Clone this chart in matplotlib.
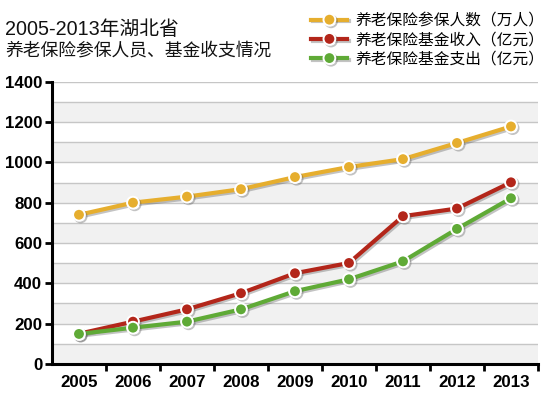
import matplotlib
matplotlib.use("Agg")
import matplotlib.pyplot as plt
import matplotlib.patheffects as pe

years = [2005, 2006, 2007, 2008, 2009, 2010, 2011, 2012, 2013]
insured = [740, 800, 830, 867, 927, 977, 1016, 1096, 1178]
income = [150, 210, 271, 351, 450, 501, 733, 771, 901]
expense = [149, 180, 210, 271, 361, 420, 509, 670, 822]
series_labels = ["养老保险参保人数（万人）", "养老保险基金收入（亿元）", "养老保险基金支出（亿元）"]
title_lines = ["2005-2013年湖北省", "养老保险参保人员、基金收支情况"]
yticks = [0, 200, 400, 600, 800, 1000, 1200, 1400]

colors = ["#E6AE2E", "#B3261A", "#5FAA36"]

plt.rcParams['font.family'] = ['Noto Sans CJK SC', 'DejaVu Sans']

fig = plt.figure(figsize=(5.46, 3.95), dpi=100)
fig.patch.set_facecolor("white")
ax = fig.add_axes([0.0952, 0.0785, 0.8901, 0.7147])
ax.set_facecolor("white")

# alternating bands
for y0 in range(0, 1400, 200):
    ax.axhspan(y0, y0 + 100, color="#f1f1f1", zorder=0, lw=0)
for y in range(100, 1500, 100):
    ax.axhline(y, color="#c6c6c6", lw=1.0, zorder=1)

shadow = [pe.SimpleLineShadow(offset=(1.2, -1.2), shadow_color="#555555", alpha=0.35), pe.Normal()]
handles = []
for vals, c, lab in zip([insured, income, expense], colors, series_labels):
    h, = ax.plot(years, vals, color=c, lw=3.0, marker="o", markersize=8.5,
                 markerfacecolor=c, markeredgecolor="white", markeredgewidth=1.4,
                 zorder=3, label=lab, path_effects=shadow)
    handles.append(h)

ax.set_xlim(2004.5, 2013.5)
ax.set_ylim(0, 1400)
ax.set_xticks(years)
ax.set_xticks([y + 0.5 for y in years], minor=True)
ax.tick_params(axis="x", which="major", length=0, pad=8)
ax.tick_params(axis="x", which="minor", length=5, width=2, direction="out", color="black")
ax.set_yticks(yticks)
ax.tick_params(axis="y", which="major", length=5, width=2, direction="out", pad=2)
for lbl in ax.get_xticklabels() + ax.get_yticklabels():
    lbl.set_fontfamily("Liberation Sans")
    lbl.set_fontweight("bold")
    lbl.set_fontsize(12.2)

for s in ["top", "right"]:
    ax.spines[s].set_visible(False)
for s in ["left", "bottom"]:
    ax.spines[s].set_linewidth(2.2)
    ax.spines[s].set_color("black")

fig.text(0.009, 0.925, title_lines[0], fontsize=14.2, va="center", ha="left", color="#111111",
         family=["Liberation Sans", "Noto Sans CJK SC"])
fig.text(0.009, 0.873, title_lines[1], fontsize=12.8, va="center", ha="left", color="#111111")

fig.legend(handles=handles, labels=series_labels, loc="upper right",
           bbox_to_anchor=(1.017, 0.997), frameon=False, fontsize=11.3,
           handlelength=2.3, handletextpad=0.5, labelspacing=0.14, borderpad=0.2)

fig.savefig("out.png", dpi=100, facecolor="white")
